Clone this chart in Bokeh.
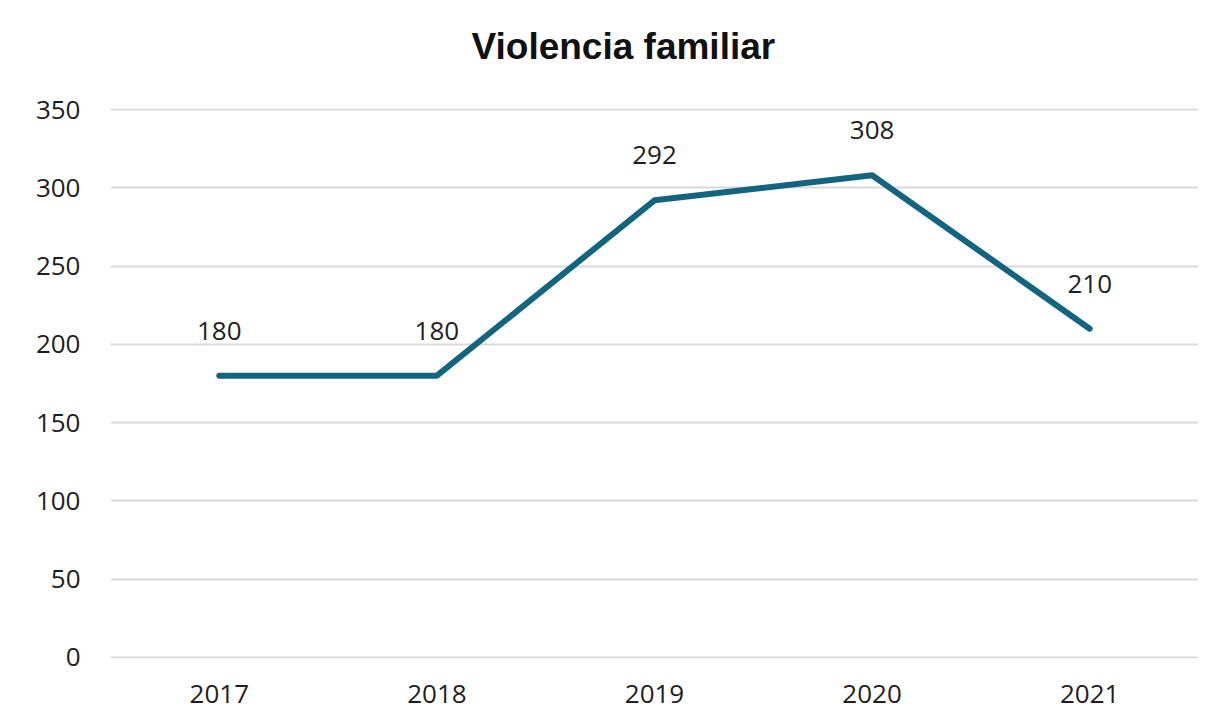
from bokeh.plotting import figure
from bokeh.models import FactorRange, Range1d, FixedTicker, ColumnDataSource
from bokeh.core.properties import value
from bokeh.embed import file_html
from bokeh.resources import INLINE

years = ["2017", "2018", "2019", "2020", "2021"]
counts = [180, 180, 292, 308, 210]
labels = [str(v) for v in counts]
y_ticks = [0, 50, 100, 150, 200, 250, 300, 350]
title_text = "Violencia familiar"

src = ColumnDataSource(dict(x=years, y=counts, label=labels))

p = figure(
    x_range=FactorRange(*years, range_padding=0),
    y_range=Range1d(-0.64, 350.64),
    width=1204, height=715,
    output_backend="svg", toolbar_location=None,
    min_border_left=110, min_border_right=6,
    min_border_top=108, min_border_bottom=57,
    title=title_text + "\n ",
)
p.x_range.range_padding = 0

p.title.text_font = "Liberation Sans"
p.title.text_font_size = "37px"
p.title.text_font_style = "bold"
p.title.text_color = "#111111"
p.title.align = "left"
p.title.offset = 361
p.title.standoff = 2
p.title.vertical_align = "bottom"

p.outline_line_color = None
p.border_fill_color = "white"
p.background_fill_color = "white"

p.xgrid.grid_line_color = None
p.ygrid.grid_line_color = "#D9D9D9"
p.ygrid.grid_line_width = 2
p.yaxis.ticker = FixedTicker(ticks=y_ticks)

for ax in (p.xaxis[0], p.yaxis[0]):
    ax.axis_line_color = None
    ax.major_tick_line_color = None
    ax.minor_tick_line_color = None
    ax.major_tick_out = 0
    ax.major_tick_in = 0
    ax.minor_tick_out = 0
    ax.minor_tick_in = 0
    ax.major_label_text_font = "Open Sans"
    ax.major_label_text_font_size = "26px"
    ax.major_label_text_color = "#1E1E1E"

p.yaxis.major_label_standoff = 30
p.xaxis.major_label_standoff = 26

p.line("x", "y", source=src, line_color="#12657F", line_width=6,
       line_join="round", line_cap="round")

p.text("x", "y", text="label", source=src, text_align="center",
       text_baseline="alphabetic", y_offset=-45,
       text_font=value("Open Sans"), text_font_size="26px", text_color="#1E1E1E")

open("out.html", "w").write(file_html(p, INLINE))
